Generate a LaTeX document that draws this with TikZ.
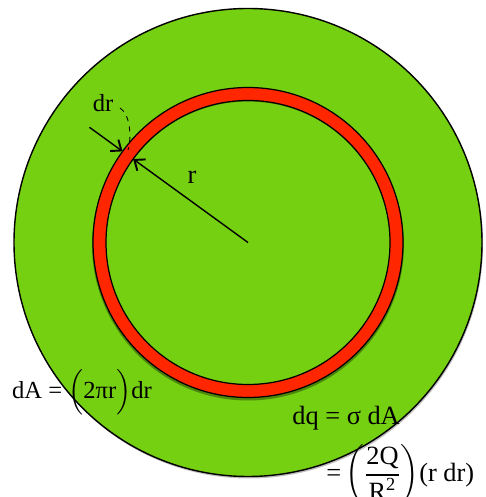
\documentclass[tikz,border=0pt]{standalone}
\usepackage{amsmath}
\usepackage{fontspec}
\setmainfont{Liberation Serif}
\usepackage{tikz}
\usetikzlibrary{arrows.meta, calc, positioning}

\definecolor{diskgreen}{RGB}{118,208,18}
\definecolor{ringred}{RGB}{255,38,0}

\tikzset{
  disk/.style={fill=diskgreen, draw=black, line width=0.8pt},
  ring/.style={fill=ringred, even odd rule, draw=black, line width=0.7pt},
  shade ring/.style={fill=diskgreen!65!black, even odd rule},
  radarrow/.style={line width=0.8pt, -{Straight Barb[length=5pt,width=8pt,line width=1.1pt]}},
  label14/.style={inner sep=0pt, font=\fontsize{14}{16}\selectfont},
  label15/.style={inner sep=0pt, font=\fontsize{15}{17}\selectfont},
}

\begin{document}
\begin{tikzpicture}[x=0.02cm, y=0.02cm]
  \useasboundingbox (0,0) rectangle (486,497);
  \clip (0,0) rectangle (486,497);

  % centre of the disk and the ring
  \coordinate (O) at (248,254.5);

  % charged disk
  \fill[black!25] ($(O)+(1,-2)$) circle (234);
  \draw[disk] (O) circle (234);

  % thin ring of width dr
  \fill[shade ring] ($(O)+(0,-2)$) circle (156) ($(O)+(0,-1)$) circle (142);
  \draw[ring] (O) circle (155) (O) circle (142);

  % points on the ring
  \coordinate (Pin) at ($(O)+(144:142)$);
  \coordinate (Pout) at ($(O)+(144:155)$);
  \coordinate (Tail) at ($(O)+(144:196)$);

  % radius r and width dr
  \draw[radarrow] (O) -- (Pin);
  \draw[radarrow] (Tail) -- (Pout);
  \draw[dashed, line width=0.5pt] (120,389) .. controls (130,383) and (132,360) .. (128,347);

  % labels
  \node[label15] (rlab) at (192,320) {r};
  \node[label14] (drlab) at (103,394) {dr};
  \node[label14] (dAeq) at (82,105) {dA = $\Bigl($2πr$\Bigr)$dr};
  \node[label15, anchor=west] (dqeq) at (292,79) {dq = σ dA};
  \node[label15, anchor=west] (dqval) at (326,22)
    {=\,$\left(\dfrac{\text{2Q}}{\text{R}^{\text{2}}}\right)$(r dr)};
\end{tikzpicture}
\end{document}
